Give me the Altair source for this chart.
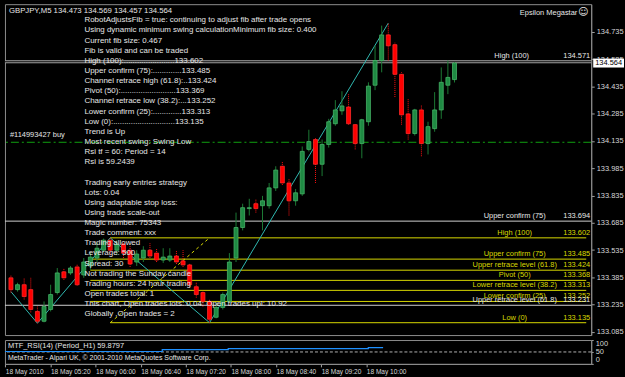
import altair as alt
import pandas as pd

# ---------------- data ----------------
bars = list(range(68))
opens = [133.382, 133.317, 133.344, 133.317, 133.197, 133.143, 133.208, 133.301, 133.415, 133.409,
         133.442, 133.398, 133.447, 133.491, 133.534, 133.589, 133.534, 133.567, 133.534, 133.469,
         133.491, 133.534, 133.518, 133.480, 133.480, 133.502, 133.475, 133.453, 133.333, 133.301,
         133.252, 133.165, 133.219, 133.252, 133.491, 133.659, 133.763, 133.790, 133.779, 133.779,
         133.877, 133.996, 133.904, 133.806, 133.844, 134.089, 134.143, 134.007, 134.116, 134.230,
         134.301, 134.322, 134.225, 134.121, 134.241, 134.442, 134.578, 134.719, 134.665, 134.502,
         134.284, 134.176, 134.306, 134.121, 134.203, 134.306, 134.442, 134.473]
highs = [133.398, 133.355, 133.382, 133.382, 133.224, 133.252, 133.344, 133.436, 133.436, 133.447,
         133.458, 133.491, 133.523, 133.578, 133.598, 133.602, 133.589, 133.589, 133.556, 133.534,
         133.556, 133.572, 133.545, 133.545, 133.545, 133.534, 133.534, 133.464, 133.355, 133.312,
         133.263, 133.246, 133.301, 133.518, 133.741, 133.790, 133.817, 133.817, 133.833, 133.904,
         133.996, 134.023, 133.926, 133.871, 134.105, 134.197, 134.154, 134.143, 134.257, 134.360,
         134.409, 134.393, 134.230, 134.257, 134.458, 134.659, 134.770, 134.784, 134.676, 134.513,
         134.366, 134.312, 134.333, 134.241, 134.404, 134.540, 134.578, 134.569]
lows = [133.301, 133.306, 133.263, 133.192, 133.132, 133.137, 133.197, 133.290, 133.371, 133.398,
        133.339, 133.382, 133.426, 133.469, 133.523, 133.507, 133.507, 133.491, 133.442, 133.447,
        133.469, 133.491, 133.469, 133.464, 133.469, 133.458, 133.442, 133.333, 133.273, 133.224,
        133.135, 133.159, 133.208, 133.246, 133.469, 133.643, 133.725, 133.741, 133.643, 133.763,
        133.860, 133.893, 133.725, 133.779, 133.833, 134.078, 133.904, 133.942, 134.099, 134.219,
        134.279, 134.225, 134.089, 134.040, 134.219, 134.415, 134.513, 134.578, 134.377, 134.225,
        134.143, 134.165, 134.051, 134.061, 134.186, 134.257, 134.393, 134.457]
closes = [133.317, 133.344, 133.279, 133.208, 133.143, 133.224, 133.290, 133.409, 133.382, 133.436,
          133.344, 133.469, 133.496, 133.545, 133.589, 133.534, 133.567, 133.518, 133.458, 133.513,
          133.534, 133.502, 133.480, 133.496, 133.502, 133.469, 133.453, 133.344, 133.290, 133.252,
          133.154, 133.219, 133.290, 133.469, 133.659, 133.768, 133.768, 133.763, 133.806, 133.877,
          133.975, 133.904, 133.806, 133.850, 134.078, 134.132, 134.007, 134.116, 134.241, 134.306,
          134.328, 134.230, 134.121, 134.252, 134.437, 134.578, 134.719, 134.659, 134.502, 134.279,
          134.176, 134.306, 134.121, 134.214, 134.306, 134.458, 134.485, 134.564]

# ZigZag swing points (bar index, price)
zz_bar = [0, 4, 15, 30, 57]
zz_price = [133.306, 133.132, 133.602, 133.135, 134.784]

# Fibonacci anchor line
fib_anchor_bar = [15, 30]
fib_anchor_price = [133.135, 133.602]

# Fib levels drawn in yellow
fib_names = ["High (100)", "Upper confirm (75)", "Upper retrace level (61.8)", "Pivot (50)",
             "Lower retrace level (38.2)", "Lower confirm (25)", "Low (0)"]
fib_prices = [133.602, 133.485, 133.424, 133.368, 133.313, 133.252, 133.135]
fib_values = ["133.602", "133.485", "133.424", "133.368", "133.313", "133.252", "133.135"]
fib_start_bar = [15, 12, 12, 12, 12, 12, 15]

# Other full-width levels (silver / white)
wl_names = ["Upper confirm (75)", "Upper retrace level (61.8)"]
wl_prices = [133.694, 133.231]
wl_values = ["133.694", "133.231"]
high_name = "High (100)"
high_price = 134.571
high_value = "134.571"

order_label = "#114993427 buy"
order_price = 134.128

price_ticks = [134.735, 134.585, 134.435, 134.285, 134.135, 133.985,
               133.835, 133.685, 133.535, 133.385, 133.235, 133.085]
last_price = 134.564
last_price_text = "134.564"

time_tick_pos = [-0.1, 6.6, 13.3, 20.0, 26.7, 33.4, 40.1, 46.8, 53.5]
time_labels = ["18 May 2010", "18 May 05:20", "18 May 06:00", "18 May 06:40", "18 May 07:20",
               "18 May 08:00", "18 May 08:40", "18 May 09:20", "18 May 10:00"]

rsi_bar = [-0.15, 23.2, 33.0, 53.8, 56.0]
rsi_val = [52.0, 59.6, 63.8, 68.0, 68.0]
rsi_ticks = [0, 50, 100]

header = "GBPJPY,M5  134.473 134.569 134.457 134.564"
ea_name = "Epsilon Megastar"
info_lines_a = [
    "RobotAdjustsFib = true: continuing to adjust fib after trade opens",
    "Using dynamic minimum swing calculationMinimum fib size: 0.400",
    "Current fib size:   0.467",
    "Fib is valid and can be traded",
    "High (100):.......................133.602",
    "Upper confirm (75):.............133.485",
    "Channel retrace high (61.8):..133.424",
    "Pivot (50):.........................133.369",
    "Channel retrace low (38.2):...133.252",
    "Lower confirm (25):.............133.313",
    "Low (0):............................133.135",
    "Trend is Up",
    "Most recent swing: Swing Low",
    "Rsi tf = 60: Period = 14",
    "Rsi is 59.2439",
]
info_lines_b = [
    "Trading early entries strategy",
    "Lots: 0.04",
    "Using adaptable stop loss:",
    "Using trade scale-out",
    "Magic number: 75343",
    "Trade comment: xxx",
    "Trading allowed",
    "Leverage: 500",
    "Spread: 30",
    "Not trading the Sunday candle",
    "Trading hours: 24 hour trading",
    "Open trades total: 1",
    "This chart, Open trades lots: 0.04: Open trades upl: 10.92",
    "Globally ,Open trades = 2",
]
rsi_title = "MTF_RSI(14) (Period_H1) 59.8797"
copyright_text = "MetaTrader - Alpari UK, \u00a9 2001-2010 MetaQuotes Software Corp."

# ---------------- styling ----------------
FONT = "Liberation Sans"
FS = 7.5
TXT = "#e6e6e6"
YEL = "#d9d900"
GRID = "#8c8c8c"
X_MIN, X_MAX = -0.15, 86.9
W = 590
LH = 10.2

x_scale = alt.Scale(domain=[X_MIN, X_MAX], nice=False, zero=False)
y_scale = alt.Scale(domain=[133.067, 134.888], nice=False, zero=False)

y_axis = alt.Axis(orient="right", values=price_ticks, format=".3f", title=None,
                  labelColor="#d6d6d6", labelFont=FONT, labelFontSize=FS,
                  tickColor="#a0a0a0", tickSize=3, labelPadding=2,
                  domainColor=GRID, grid=False, labelOverlap=False, labelFlush=False)


def Y(field):
    return alt.Y(field, type="quantitative", scale=y_scale, axis=y_axis)


def X(field):
    return alt.X(field, type="quantitative", scale=x_scale, axis=None)


cdf = pd.DataFrame({"bar": bars, "open": opens, "high": highs, "low": lows, "close": closes})
base = alt.Chart(cdf)
is_up = "datum.close >= datum.open"
is_dn = "datum.close < datum.open"

wick_up = base.transform_filter(is_up).mark_rule(color="#1c7a34", strokeWidth=1).encode(
    x=X("bar"), y=Y("low"), y2="high:Q")
wick_dn = base.transform_filter(is_dn).mark_rule(color="#ff1010", strokeWidth=1,
                                                  strokeDash=[1, 1]).encode(
    x=X("bar"), y=Y("low"), y2="high:Q")
body_up = base.transform_filter(is_up).mark_bar(width=4, fill="#1f8a43", stroke="#46b266",
                                                 strokeWidth=0.8).encode(
    x=X("bar"), y=Y("open"), y2="close:Q")
body_dn = base.transform_filter(is_dn).mark_bar(width=4, fill="#ff0000", stroke="#ff2a2a",
                                                 strokeWidth=0.8).encode(
    x=X("bar"), y=Y("open"), y2="close:Q")

# level lines
fdf = pd.DataFrame({"name": fib_names, "price": fib_prices, "val": fib_values,
                    "start": fib_start_bar, "end": [X_MAX] * len(fib_names)})
fib_rules = alt.Chart(fdf).mark_rule(color=YEL, strokeWidth=1).encode(
    x=X("start"), x2="end:Q", y=Y("price"))
fib_name_txt = alt.Chart(fdf).mark_text(color=YEL, font=FONT, fontSize=FS, align="center",
                                        baseline="bottom", dy=-1).encode(
    x=alt.value(513), y=Y("price"), text="name:N")
fib_val_txt = alt.Chart(fdf).mark_text(color=YEL, font=FONT, fontSize=FS, align="right",
                                       baseline="bottom", dy=-1).encode(
    x=alt.value(589), y=Y("price"), text="val:N")

wdf = pd.DataFrame({"name": wl_names, "price": wl_prices, "val": wl_values})
w_rules = alt.Chart(wdf).mark_rule(color="#d0d0d0", strokeWidth=1).encode(y=Y("price"))
w_name_txt = alt.Chart(wdf).mark_text(color=TXT, font=FONT, fontSize=FS, align="center",
                                      baseline="bottom", dy=-1).encode(
    x=alt.value(513), y=Y("price"), text="name:N")
w_val_txt = alt.Chart(wdf).mark_text(color=TXT, font=FONT, fontSize=FS, align="right",
                                     baseline="bottom", dy=-1).encode(
    x=alt.value(589), y=Y("price"), text="val:N")

hdf = pd.DataFrame({"name": [high_name], "price": [high_price], "val": [high_value]})
h_rule_outer = alt.Chart(hdf).mark_rule(color="#a8a8a8", strokeWidth=3).encode(y=Y("price"))
h_rule_inner = alt.Chart(hdf).mark_rule(color="#000000", strokeWidth=1).encode(y=Y("price"))
h_name_txt = alt.Chart(hdf).mark_text(color=TXT, font=FONT, fontSize=FS, align="center",
                                      baseline="bottom", dy=-2).encode(
    x=alt.value(510), y=Y("price"), text="name:N")
h_val_txt = alt.Chart(hdf).mark_text(color=TXT, font=FONT, fontSize=FS, align="right",
                                     baseline="bottom", dy=-2).encode(
    x=alt.value(589), y=Y("price"), text="val:N")

odf = pd.DataFrame({"name": [order_label], "price": [order_price]})
o_rule = alt.Chart(odf).mark_rule(color="#10a010", strokeWidth=1,
                                  strokeDash=[8, 3, 2, 3]).encode(y=Y("price"))
o_txt = alt.Chart(odf).mark_text(color=TXT, font=FONT, fontSize=FS, align="left",
                                 baseline="bottom", dy=-3).encode(
    x=alt.value(5), y=Y("price"), text="name:N")

zdf = pd.DataFrame({"bar": zz_bar, "price": zz_price})
zigzag = alt.Chart(zdf).mark_line(color="#2fb8b0", strokeWidth=1).encode(
    x=X("bar"), y=Y("price"))

adf = pd.DataFrame({"bar": fib_anchor_bar, "price": fib_anchor_price})
anchor = alt.Chart(adf).mark_line(color=YEL, strokeWidth=1, strokeDash=[3, 3]).encode(
    x=X("bar"), y=Y("price"))

# texts (the comment block has an empty line between the two groups)
info_a = alt.Chart(pd.DataFrame({"t": ["\n".join(info_lines_a)]})).mark_text(
    color=TXT, font=FONT, fontSize=8, align="left", baseline="alphabetic",
    lineBreak="\n", lineHeight=LH).encode(x=alt.value(80), y=alt.value(18.3), text="t:N")
info_b = alt.Chart(pd.DataFrame({"t": ["\n".join(info_lines_b)]})).mark_text(
    color=TXT, font=FONT, fontSize=8, align="left", baseline="alphabetic",
    lineBreak="\n", lineHeight=LH).encode(
    x=alt.value(80), y=alt.value(18.3 + (len(info_lines_a) + 1) * LH), text="t:N")
head = alt.Chart(pd.DataFrame({"t": [header]})).mark_text(
    color=TXT, font=FONT, fontSize=7.8, align="left", baseline="alphabetic").encode(
    x=alt.value(4), y=alt.value(8.5), text="t:N")
ea = alt.Chart(pd.DataFrame({"t": [ea_name]})).mark_text(
    color=TXT, font=FONT, fontSize=FS, align="right", baseline="alphabetic").encode(
    x=alt.value(576), y=alt.value(10.5), text="t:N")
smile = alt.Chart(pd.DataFrame({"t": ["\u263a"]})).mark_text(
    color=TXT, font="DejaVu Sans", fontSize=10, align="center", baseline="middle").encode(
    x=alt.value(582), y=alt.value(7.5), text="t:N")

# current price marker on the axis
ldf = pd.DataFrame({"price": [last_price], "t": [last_price_text]})
lp_box = alt.Chart(ldf).mark_tick(color="#ffffff", orient="horizontal", size=31,
                                  thickness=9, opacity=1).encode(
    x=alt.value(607.5), y=Y("price"))
lp_txt = alt.Chart(ldf).mark_text(color="#000000", font=FONT, fontSize=FS, align="center",
                                  baseline="middle").encode(
    x=alt.value(607.5), y=Y("price"), text="t:N")

main = alt.layer(
    h_rule_outer, h_rule_inner, w_rules, o_rule, fib_rules, anchor, zigzag,
    wick_up, wick_dn, body_up, body_dn,
    fib_name_txt, fib_val_txt, w_name_txt, w_val_txt, h_name_txt, h_val_txt, o_txt,
    info_a, info_b, head, ea, smile, lp_box, lp_txt,
).properties(width=W, height=333)

# ---------------- RSI panel ----------------
label_arr = "[" + ",".join("'%s'" % l for l in time_labels) + "]"
x_axis = alt.Axis(values=time_tick_pos,
                  labelExpr=label_arr + "[round((datum.value + 0.1) / 6.7)]",
                  title=None, labelColor="#d6d6d6", labelFont=FONT, labelFontSize=6.6,
                  labelAlign="left", labelPadding=2, tickColor="#a0a0a0", tickSize=3,
                  domainColor=GRID, grid=False, labelOverlap=False, labelFlush=False)
rsi_y = alt.Scale(domain=[0, 100], nice=False, zero=False)
rsi_axis = alt.Axis(orient="right", values=rsi_ticks, title=None, labelColor="#d6d6d6",
                    labelFont=FONT, labelFontSize=FS, tickColor="#a0a0a0", tickSize=2,
                    labelPadding=2, domainColor=GRID, grid=False, labelFlush=True,
                    labelOverlap=False)

rdf = pd.DataFrame({"bar": rsi_bar, "rsi": rsi_val})
rsi_line = alt.Chart(rdf).mark_line(color="#1e90ff", strokeWidth=1.2,
                                    interpolate="step-after").encode(
    x=alt.X("bar:Q", scale=x_scale, axis=x_axis),
    y=alt.Y("rsi:Q", scale=rsi_y, axis=rsi_axis))
rsi_level = alt.Chart(pd.DataFrame({"lv": [50]})).mark_rule(
    color="#b0b0b0", strokeWidth=1, strokeDash=[3, 2]).encode(
    y=alt.Y("lv:Q", scale=rsi_y, axis=rsi_axis))
rsi_t1 = alt.Chart(pd.DataFrame({"t": [rsi_title]})).mark_text(
    color=TXT, font=FONT, fontSize=FS, align="left", baseline="alphabetic").encode(
    x=alt.value(3), y=alt.value(8), text="t:N")
rsi_t2 = alt.Chart(pd.DataFrame({"t": [copyright_text]})).mark_text(
    color=TXT, font=FONT, fontSize=7, align="left", baseline="alphabetic").encode(
    x=alt.value(3), y=alt.value(20.5), text="t:N")

rsi = alt.layer(rsi_level, rsi_line, rsi_t1, rsi_t2).properties(width=W, height=24)

chart = alt.vconcat(main, rsi, spacing=3).properties(
    padding={"left": 2, "top": 2, "right": 0, "bottom": 0}
).configure(background="#000000").configure_view(stroke=GRID, strokeWidth=1)

chart.save("out.html", embed_options={"renderer": "svg", "actions": False})
